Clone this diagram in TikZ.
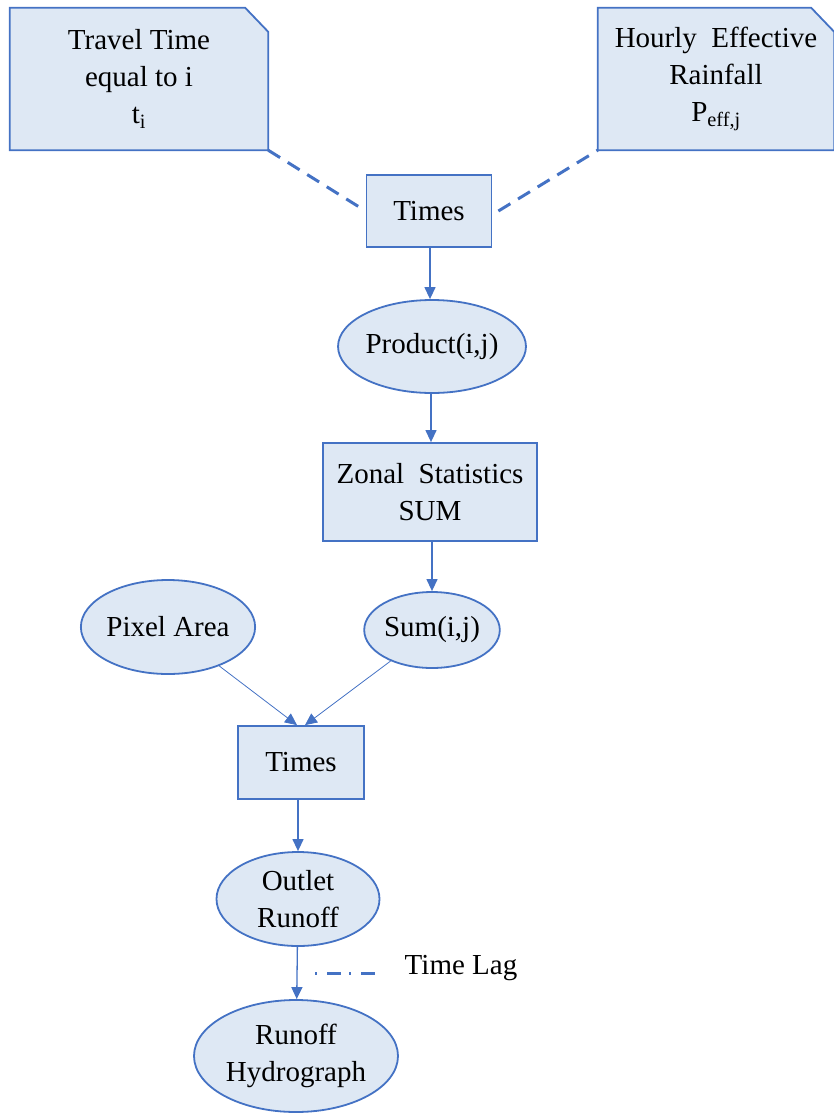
\documentclass[tikz,border=0pt]{standalone}
\usepackage{fontspec}
\setmainfont{Liberation Serif}
\usetikzlibrary{shapes.geometric,arrows.meta,backgrounds}

\definecolor{boxfill}{HTML}{DEE8F4}
\definecolor{boxline}{HTML}{4472C4}

\tikzset{
  txt/.style={font=\rmfamily\fontsize{29}{37}\selectfont},
  base/.style={txt, draw=boxline, fill=boxfill, line width=1.8pt, align=center, inner sep=0pt},
  snipbox/.style={txt, rectangle, align=center, inner sep=0pt},
  snipline/.style={draw=boxline, fill=boxfill, line width=1.8pt},
  opbox/.style={base, rectangle},
  databox/.style={base, ellipse},
  flow/.style={draw=boxline, line width=1.3pt, -{Triangle[length=12pt,width=11pt]}},
  thinflow/.style={flow, line width=0.8pt},
  link/.style={draw=boxline, line width=3pt, dash pattern=on 14pt off 9pt},
}

\begin{document}
\begin{tikzpicture}[x=1pt, y=-1pt]
\useasboundingbox (0,0) rectangle (834,1117);

% Inputs
\node[snipbox, minimum width=258pt, minimum height=142pt] (travel) at (139,79)
  {Travel Time\\equal to i\\t\textsubscript{i}};
\node[snipbox, minimum width=236pt, minimum height=142pt] (rain) at (716,79)
  {Hourly\ \ Effective\\Rainfall\\P\textsubscript{eff,j}};

% Chain
\node[opbox, minimum width=125pt, minimum height=72pt] (times1) at (429,211) {Times};
\node[databox, minimum width=175pt, minimum height=93pt] (product) at (432,346.5) {Product(i,j)};
\node[opbox, minimum width=214pt, minimum height=98pt] (zonal) at (430,492) {Zonal\ \ Statistics\\SUM};
\node[databox, minimum width=131pt, minimum height=76pt] (sum) at (432,630) {Sum(i,j)};
\node[databox, minimum width=151pt, minimum height=94pt] (pixel) at (168,627) {Pixel Area};
\node[opbox, minimum width=126pt, minimum height=73pt] (times2) at (301,762.5) {Times};
\node[databox, minimum width=163pt, minimum height=94pt] (outlet) at (298,899) {Outlet\\Runoff};
\node[databox, minimum width=204pt, minimum height=112pt] (hydro) at (296,1056) {Runoff\\Hydrograph};
\node[txt, inner sep=0pt] (lag) at (461,968) {Time Lag};
\coordinate (lagstart) at (315,973);

% snipped corners behind the input texts
\begin{scope}[on background layer]
\filldraw[snipline] (travel.south west) -- (travel.north west) -- ([xshift=-23pt]travel.north east)
  -- ([yshift=-24pt]travel.north east) -- (travel.south east) -- cycle;
\filldraw[snipline] (rain.south west) -- (rain.north west) -- ([xshift=-23pt]rain.north east)
  -- ([yshift=-24pt]rain.north east) -- (rain.south east) -- cycle;
\end{scope}

% Connectors
\draw[link] (travel.south east) -- (times1.west);
\draw[link] ([xshift=6pt]times1.east) -- (rain.south west);
\draw[flow] (times1.south -| 430,0) -- (product.north -| 430,0);
\draw[flow] (product.south -| 431,0) -- (zonal.north -| 431,0);
\draw[flow] (zonal.south -| sum.north) -- (sum);
\draw[thinflow] (pixel) -- ([xshift=-4pt]times2.north);
\draw[thinflow] (sum) -- ([xshift=4pt]times2.north);
\draw[flow] (times2.south -| outlet.north) -- (outlet);
\draw[flow] (outlet) -- (hydro);
\draw[link, dash pattern=on 2pt off 10pt on 14pt off 8pt] (lagstart) -- ([xshift=-23pt, yshift=-5pt]lag.west);
\end{tikzpicture}
\end{document}
